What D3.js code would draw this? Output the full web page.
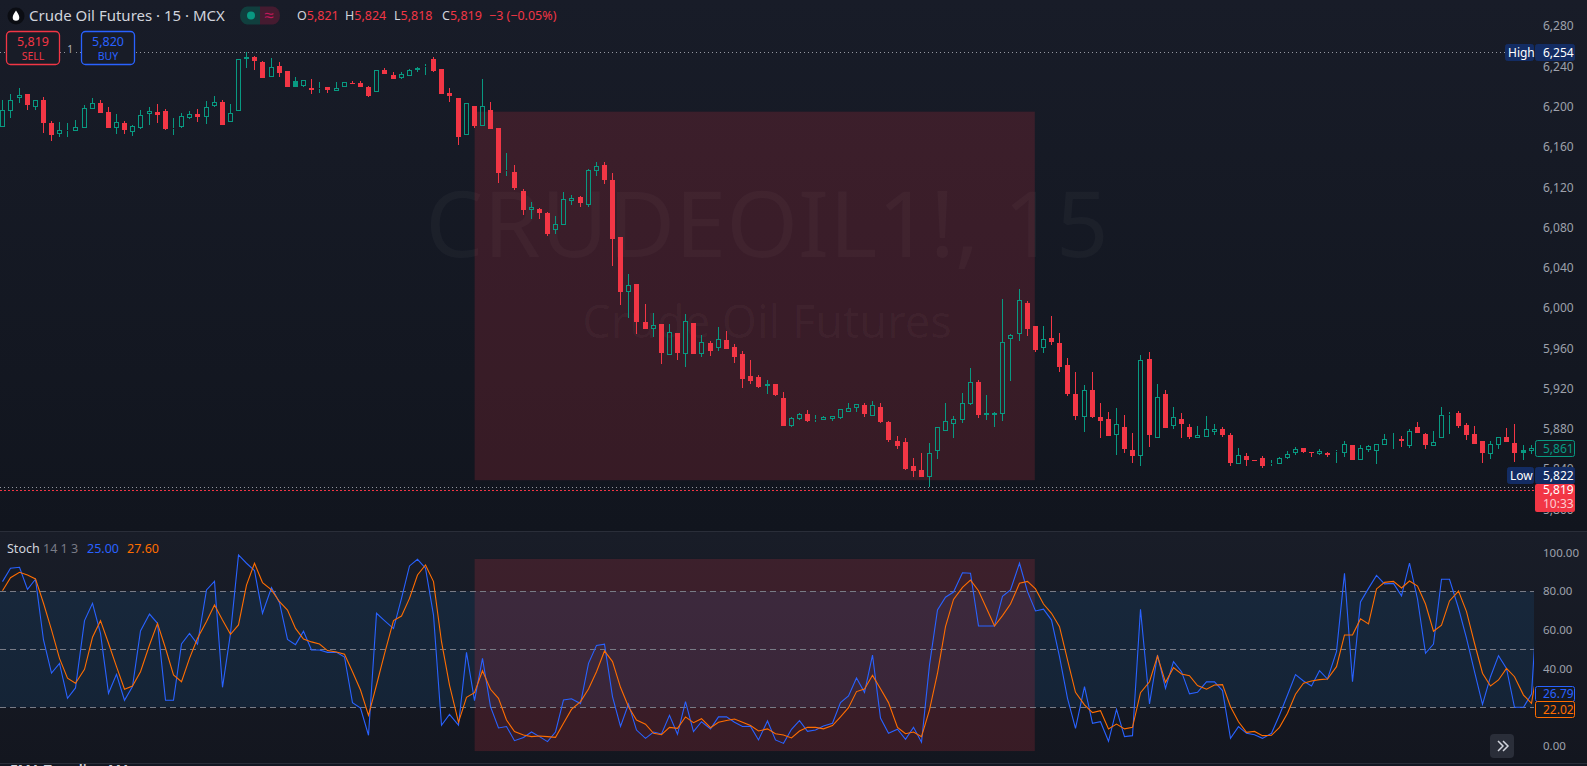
<!DOCTYPE html>
<html>
<head>
<meta charset="utf-8">
<script src="https://cdnjs.cloudflare.com/ajax/libs/d3/7.8.5/d3.min.js"></script>
<style>
  html, body { margin: 0; padding: 0; background: #131722; overflow: hidden; }
  svg { display: block; }
  text { font-family: "Noto Sans", sans-serif; }
</style>
</head>
<body>
<script>
var barOpen = [
  6180,6196,6209,6213,6200,6207,6184,6173,6176,6176,
  6179,6198,6204,6195,6179,6184,6175,6179,6193,6195,
  6196,6178,6180,6189,6193,6190,6201,6205,6185,6196,
  6247,6249,6244,6229,6240,6235,6225,6221,6219,6218,
  6220,6216,6220,6223,6223,6220,6215,6236,6231,6228,
  6230,6236,6239,6247,6237,6214,6209,6172,6201,6181,
  6197,6179,6136,6135,6116,6097,6098,6094,6077,6082,
  6106,6110,6102,6136,6142,6127,6071,6016,6024,5986,
  5979,5984,5953,5975,5954,5985,5954,5965,5960,5968,
  5961,5954,5932,5931,5923,5925,5911,5883,5890,5895,
  5889,5889,5890,5891,5897,5901,5904,5893,5902,5887,
  5868,5867,5843,5839,5832,5858,5878,5885,5889,5905,
  5927,5894,5894,5895,5969,5974,6005,5982,5960,5970,
  5965,5943,5915,5892,5919,5892,5890,5874,5882,5859,
  5853,5949,5871,5915,5883,5890,5882,5871,5872,5877,
  5880,5874,5845,5853,5849,5851,5845,5845,5851,5856,
  5861,5857,5855,5856,5857,5856,5864,5849,5859,5858,
  5864,5871,5870,5863,5882,5875,5863,5871,5894,5896,
  5884,5875,5868,5855,5864,5872,5866,5859,5858
];
var barHigh = [
  6207,6213,6219,6213,6207,6210,6186,6185,6184,6187,
  6202,6209,6207,6200,6193,6186,6182,6197,6200,6203,
  6198,6189,6194,6196,6198,6206,6211,6207,6203,6247,
  6254,6250,6245,6248,6244,6235,6229,6226,6227,6224,
  6220,6224,6224,6225,6225,6221,6236,6238,6234,6234,
  6237,6239,6242,6249,6237,6219,6209,6204,6201,6227,
  6205,6179,6154,6142,6118,6105,6099,6095,6091,6115,
  6112,6111,6138,6145,6145,6134,6071,6034,6024,6004,
  5995,5984,5984,5975,5994,5985,5973,5967,5981,5977,
  5964,5957,5948,5933,5929,5925,5917,5892,5896,5899,
  5894,5893,5893,5900,5906,5905,5906,5908,5906,5888,
  5873,5871,5851,5856,5866,5882,5906,5893,5916,5940,
  5929,5914,5897,6009,5974,6019,6007,5982,5982,5992,
  5975,5950,5936,5924,5936,5906,5897,5901,5894,5876,
  5953,5956,5925,5919,5902,5896,5885,5883,5893,5885,
  5882,5876,5861,5856,5849,5853,5849,5852,5858,5862,
  5861,5857,5860,5857,5859,5868,5864,5864,5864,5865,
  5875,5876,5873,5880,5887,5876,5878,5902,5897,5898,
  5886,5883,5868,5868,5872,5881,5885,5864,5864
];
var barLow = [
  6180,6189,6204,6197,6197,6174,6166,6170,6170,6176,
  6179,6198,6194,6179,6173,6173,6171,6178,6182,6184,
  6177,6172,6179,6188,6185,6183,6200,6182,6185,6196,
  6238,6236,6228,6229,6229,6220,6220,6220,6213,6214,
  6214,6216,6220,6222,6220,6210,6215,6232,6227,6227,
  6230,6234,6231,6234,6213,6205,6162,6172,6179,6181,
  6178,6124,6131,6117,6092,6088,6088,6072,6074,6082,
  6102,6100,6100,6131,6123,6042,6003,5990,5974,5979,
  5971,5944,5953,5948,5941,5954,5951,5952,5957,5959,
  5945,5921,5925,5921,5915,5913,5883,5882,5889,5887,
  5887,5889,5888,5890,5897,5897,5892,5893,5886,5867,
  5860,5839,5832,5832,5822,5850,5878,5871,5886,5904,
  5891,5889,5882,5888,5928,5967,5972,5956,5955,5963,
  5936,5913,5889,5877,5891,5871,5873,5854,5856,5846,
  5843,5862,5871,5881,5880,5871,5870,5871,5872,5874,
  5872,5843,5845,5843,5848,5841,5843,5845,5850,5854,
  5856,5852,5854,5852,5846,5852,5849,5849,5857,5845,
  5864,5860,5862,5861,5876,5860,5863,5871,5875,5881,
  5869,5865,5846,5850,5860,5867,5847,5849,5855
];
var barClose = [
  6197,6207,6212,6202,6207,6184,6172,6177,6177,6180,
  6199,6204,6194,6179,6185,6177,6181,6192,6196,6192,
  6178,6179,6191,6193,6190,6200,6205,6182,6194,6247,
  6249,6245,6228,6239,6233,6220,6220,6226,6217,6219,
  6217,6219,6224,6222,6220,6211,6236,6232,6227,6232,
  6236,6238,6240,6235,6213,6211,6170,6204,6181,6201,
  6178,6134,6137,6119,6097,6100,6094,6074,6083,6108,
  6109,6104,6137,6141,6127,6069,6016,6023,5986,5979,
  5983,5955,5976,5955,5987,5954,5966,5957,5969,5959,
  5951,5930,5928,5922,5925,5914,5883,5891,5895,5888,
  5890,5892,5893,5900,5901,5905,5895,5904,5887,5869,
  5863,5840,5838,5832,5856,5882,5888,5890,5906,5927,
  5894,5896,5896,5966,5973,6008,5979,5958,5969,5966,
  5941,5915,5893,5919,5892,5888,5873,5885,5860,5853,
  5948,5874,5912,5881,5892,5885,5872,5874,5880,5880,
  5874,5846,5854,5849,5848,5843,5846,5851,5855,5860,
  5857,5856,5858,5854,5858,5865,5849,5861,5863,5865,
  5870,5871,5868,5878,5876,5864,5867,5894,5895,5883,
  5874,5865,5856,5865,5872,5867,5856,5856,5861
];
// down bars drawn solid green in the hollow candle style
var filledUpBars = [36, 187];

var stochK = [
  85.0,91.9,92.4,81.0,86.2,54.8,37.7,42.7,24.6,30.0,
  64.8,73.8,58.2,27.2,37.0,23.6,30.7,59.5,68.2,63.4,
  23.6,23.6,52.7,58.2,52.7,80.7,85.1,30.3,58.2,98.8,
  94.5,90.7,68.6,81.9,74.1,55.1,52.4,59.3,49.6,49.6,
  48.4,48.4,46.0,22.4,19.6,5.5,68.6,64.8,60.7,76.3,
  93.1,96.5,91.9,67.7,10.7,16.3,10.7,48.4,23.4,45.3,
  20.3,9.3,10.0,2.7,4.4,7.2,4.8,2.2,7.2,23.8,
  24.4,21.9,42.7,52.0,52.6,25.5,10.1,21.7,8.2,3.9,
  7.2,6.2,15.8,6.0,22.9,7.4,12.5,8.8,15.0,15.1,
  12.2,10.0,10.1,3.1,12.9,3.1,1.3,8.6,13.1,7.5,
  8.2,10.3,11.7,22.4,25.8,35.1,27.7,47.0,14.4,6.5,
  8.6,3.4,9.6,1.9,41.9,70.3,76.9,79.6,89.6,89.3,
  62.0,62.0,62.0,77.4,80.7,94.5,79.8,69.8,70.7,65.1,
  46.2,24.6,9.1,30.7,11.7,12.5,2.4,18.9,4.8,5.3,
  70.7,21.7,47.0,29.8,43.6,38.4,26.9,27.7,33.1,33.1,
  28.6,3.9,10.0,6.5,5.8,3.9,6.5,16.0,26.3,36.9,
  33.6,31.0,38.9,34.6,48.8,89.3,33.2,74.5,81.5,88.2,
  83.8,84.1,77.6,94.5,76.0,47.9,52.7,86.2,86.2,71.2,
  55.7,38.4,21.5,35.8,46.7,40.1,20.0,20.0,26.79,92.0
];
var stochD = [
  80.3,87.0,89.8,88.4,86.4,73.8,60.0,45.3,35.0,32.4,
  39.6,56.2,64.8,53.1,41.0,29.3,31.0,38.4,52.2,63.4,
  50.5,36.7,33.2,45.3,55.7,64.3,72.9,65.1,57.7,62.6,
  83.2,94.5,84.5,80.7,74.6,70.3,60.8,55.3,53.8,52.7,
  49.3,48.6,47.4,38.4,28.9,15.8,31.5,47.6,64.8,67.2,
  76.3,88.4,93.6,85.0,53.9,31.5,12.2,25.1,27.5,38.9,
  29.3,24.6,13.4,7.4,5.6,4.8,5.1,4.8,4.4,11.7,
  18.9,22.9,29.4,38.4,49.1,43.6,30.3,20.3,13.4,11.2,
  6.5,5.8,9.6,9.1,15.0,12.0,14.1,9.4,12.2,13.1,
  13.9,12.2,10.5,7.7,8.8,6.3,5.6,4.1,7.7,9.6,
  9.6,8.8,10.5,15.0,19.8,28.1,29.4,36.5,29.6,22.4,
  9.6,6.3,7.2,4.8,18.6,37.6,61.7,75.8,82.0,85.8,
  80.3,71.2,62.0,67.4,73.4,84.1,85.1,81.2,73.4,68.6,
  61.7,44.5,27.7,21.2,17.2,18.2,8.8,11.3,8.8,9.6,
  27.5,33.2,46.5,32.9,40.5,37.2,36.3,31.2,29.3,31.5,
  31.7,20.3,12.5,7.0,7.5,5.3,5.5,9.6,16.9,26.7,
  32.4,33.6,34.3,34.6,41.0,57.4,57.4,65.7,63.1,81.2,
  84.6,85.1,81.7,85.3,82.7,73.4,59.3,62.4,75.0,80.1,
  69.5,53.1,37.6,31.0,34.1,40.1,35.8,26.3,22.02,46.0
];

var priceTicks = [6280,6240,6200,6160,6120,6080,6040,6000,5960,5920,5880,5840,5800];
var stochTicks = [100,80,60,40,20,0];
var stochLevels = [80,50,20];
var stochBand = [80,20];
var boxBars = [58.1,127];
var boxPrices = [6195,5829];
var boxStoch = [96.7,-2.7];
var highPrice = 6254, lowPrice = 5822, lastPrice = 5819, closeTag = 5861;
var legendKeys = ["O","H","L","C"];
var legendVals = ["5,821","5,824","5,818","5,819"];
var legendX = [297,345,394,442];

var W = 1587, H = 766, scaleEdge = 1534;
var green = "#089981", red = "#f23645", blue = "#2962ff", orange = "#ff6d00";
var axisGrey = "#9da1ab", textLight = "#d1d4dc", tagBlue = "#132c63";

var xScale = d3.scaleLinear().domain([0,188]).range([2.28,1530.72]);
var yPrice = d3.scaleLinear().domain([6280,5800]).range([26.1,509.4]);
var yStoch = d3.scaleLinear().domain([100,0]).range([552.6,745.9]);

function col(i) { return Math.round(xScale(i)); }

var svg = d3.select("body").append("svg").attr("width",W).attr("height",H);
var defs = svg.append("defs");

function addFade(id, top, bottom) {
  var g = defs.append("linearGradient").attr("id",id).attr("x1",0).attr("x2",0).attr("y1",0).attr("y2",1);
  g.append("stop").attr("offset",0).attr("stop-color",top);
  g.append("stop").attr("offset",1).attr("stop-color",bottom);
}
addFade("mainFade","#181c28","#11151e");
addFade("stochFade","#191d28","#13161f");

defs.append("clipPath").attr("id","paneClip").append("rect").attr("width",scaleEdge).attr("height",H);

// panes
svg.append("rect").attr("width",W).attr("height",531).attr("fill","url(#mainFade)");
svg.append("rect").attr("y",532).attr("width",W).attr("height",231).attr("fill","url(#stochFade)");
svg.append("rect").attr("y",764).attr("width",W).attr("height",2).attr("fill","#131722");
svg.append("rect").attr("y",531).attr("width",W).attr("height",1).attr("fill","#2a2e39");
svg.append("rect").attr("y",763).attr("width",W).attr("height",1).attr("fill","#2a2e39");

// watermark
svg.append("text").attr("x",767).attr("y",257).attr("text-anchor","middle")
  .attr("font-size",92).attr("fill","rgba(255,255,255,0.03)").text("CRUDEOIL1!, 15");
svg.append("text").attr("x",767).attr("y",338).attr("text-anchor","middle")
  .attr("font-size",45).attr("fill","rgba(255,255,255,0.035)").text("Crude Oil Futures");

// red boxes
svg.append("rect").attr("x",xScale(boxBars[0])).attr("width",xScale(boxBars[1])-xScale(boxBars[0]))
  .attr("y",yPrice(boxPrices[0])).attr("height",yPrice(boxPrices[1])-yPrice(boxPrices[0]))
  .attr("fill",red).attr("fill-opacity",0.17);

// high / low / last lines
function priceLine(p, color, dash, x2) {
  svg.append("line").attr("x1",0).attr("x2",x2)
    .attr("y1",Math.round(yPrice(p))+0.5).attr("y2",Math.round(yPrice(p))+0.5)
    .attr("stroke",color).attr("stroke-dasharray",dash);
}
priceLine(highPrice,"#9598a1","1 3",1505);
priceLine(lowPrice,"#9598a1","1 3",scaleEdge);
priceLine(lastPrice,red,"2 2",scaleEdge);

// candles
var candles = svg.append("g").attr("clip-path","url(#paneClip)");
barOpen.forEach(function(o,i) {
  var c = barClose[i];
  var up = c >= o || filledUpBars.indexOf(i) >= 0;
  var solid = c < o;
  var color = up ? green : red;
  var top = Math.round(yPrice(Math.max(o,c)));
  var bot = Math.round(yPrice(Math.min(o,c)));
  var hi = Math.round(yPrice(barHigh[i]));
  var lo = Math.round(yPrice(barLow[i]));
  var x = col(i);

  // wick stops at the body so the hollow ones stay empty
  candles.append("path")
    .attr("d","M"+(x+0.5)+","+hi+"V"+top+"M"+(x+0.5)+","+bot+"V"+lo)
    .attr("stroke",color).attr("fill","none");

  if (solid) {
    candles.append("rect").attr("x",x-2).attr("width",5)
      .attr("y",top).attr("height",Math.max(bot-top,1)).attr("fill",color);
  } else {
    candles.append("rect").attr("x",x-1.5).attr("width",4)
      .attr("y",top+0.5).attr("height",Math.max(bot-top-1,0))
      .attr("fill","none").attr("stroke",color);
  }
});

// stoch band, levels
svg.append("rect").attr("width",scaleEdge)
  .attr("y",yStoch(stochBand[0])).attr("height",yStoch(stochBand[1])-yStoch(stochBand[0]))
  .attr("fill","#2196f3").attr("fill-opacity",0.1);
svg.append("rect").attr("x",xScale(boxBars[0])).attr("width",xScale(boxBars[1])-xScale(boxBars[0]))
  .attr("y",yStoch(boxStoch[0])).attr("height",yStoch(boxStoch[1])-yStoch(boxStoch[0]))
  .attr("fill",red).attr("fill-opacity",0.17);
svg.selectAll(".level").data(stochLevels).enter().append("line")
  .attr("class","level").attr("x1",0).attr("x2",scaleEdge)
  .attr("y1",function(d) { return Math.round(yStoch(d))+0.5; })
  .attr("y2",function(d) { return Math.round(yStoch(d))+0.5; })
  .attr("stroke","#787b86").attr("stroke-dasharray","6 4");

var stochLine = d3.line()
  .x(function(d,i) { return col(i)+0.5; })
  .y(function(d) { return yStoch(d); });
var lines = svg.append("g").attr("clip-path","url(#paneClip)");
lines.append("path").attr("d",stochLine(stochK)).attr("fill","none").attr("stroke",blue).attr("stroke-width",1.1);
lines.append("path").attr("d",stochLine(stochD)).attr("fill","none").attr("stroke",orange).attr("stroke-width",1.1);

// axes
function styleAxis(size) {
  return function(g) {
    g.select(".domain").remove();
    g.selectAll("text").attr("fill",axisGrey).attr("font-size",size).style("font-family",'"Noto Sans", sans-serif');
  };
}
svg.append("g").attr("transform","translate("+scaleEdge+",0)")
  .call(d3.axisRight(yPrice).tickValues(priceTicks).tickFormat(d3.format(",")).tickSize(0).tickPadding(9))
  .call(styleAxis(12));
svg.append("g").attr("transform","translate("+scaleEdge+",0)")
  .call(d3.axisRight(yStoch).tickValues(stochTicks).tickFormat(d3.format(".2f")).tickSize(0).tickPadding(9))
  .call(styleAxis(11.5));

// price tags
function tag(x, y, w, h, fill, stroke, label, color, anchorX) {
  svg.append("rect").attr("x",x+0.5).attr("y",y+0.5).attr("width",w-1).attr("height",h-1).attr("rx",2)
    .attr("fill",fill).attr("stroke",stroke || fill);
  svg.append("text").attr("x",anchorX).attr("y",y+h/2+4).attr("font-size",12).attr("fill",color).text(label);
}
tag(1505,44,29,17,tagBlue,null,"High","#fff",1508);
tag(1535,44,40,17,tagBlue,null,d3.format(",")(highPrice),"#fff",1543);
tag(1535,440,40,17,"#141c25",green,d3.format(",")(closeTag),green,1543);
tag(1507,467,27,17,tagBlue,null,"Low","#fff",1510);
tag(1535,467,40,17,tagBlue,null,d3.format(",")(lowPrice),"#fff",1543);
svg.append("rect").attr("x",1535).attr("y",484).attr("width",40).attr("height",28).attr("rx",2).attr("fill",red);
svg.append("text").attr("x",1543).attr("y",494).attr("font-size",12).attr("fill","#fff").text(d3.format(",")(lastPrice));
svg.append("text").attr("x",1543).attr("y",508).attr("font-size",12).attr("fill","#fff").attr("fill-opacity",0.75).text("10:33");
tag(1535,686,40,16,"#151922",blue,stochK[188].toFixed(2),blue,1543);
tag(1535,701,40,17,"#151922",orange,stochD[188].toFixed(2),orange,1543);

// header
svg.append("circle").attr("cx",16).attr("cy",16).attr("r",8.5).attr("fill","#0b0d13");
svg.append("path").attr("d","M16,10.5C14.5,13 12.7,15 12.7,17.5A3.3,3.3 0 0 0 19.3,17.5C19.3,15 17.5,13 16,10.5Z").attr("fill","#fff");
svg.append("text").attr("x",29).attr("y",21).attr("font-size",15).attr("fill",textLight).text("Crude Oil Futures · 15 · MCX");

svg.append("path").attr("d","M260,6.5H247A7,9 0 0 0 240,15.5A7,9 0 0 0 247,24.5H260Z").attr("fill","#103f3e");
svg.append("path").attr("d","M260,6.5H273A7,9 0 0 1 280,15.5A7,9 0 0 1 273,24.5H260Z").attr("fill","#451b30");
svg.append("circle").attr("cx",251).attr("cy",15.5).attr("r",4).attr("fill",green);
svg.append("text").attr("x",269).attr("y",21).attr("text-anchor","middle").attr("font-size",17).attr("fill","#c2185b").text("≈");

legendKeys.forEach(function(k,i) {
  var t = svg.append("text").attr("x",legendX[i]).attr("y",20).attr("font-size",12.5);
  t.append("tspan").attr("fill",textLight).text(k);
  t.append("tspan").attr("fill",red).text(legendVals[i]);
});
svg.append("text").attr("x",489).attr("y",20).attr("font-size",12.5).attr("fill",red).text("−3 (−0.05%)");

// sell / buy
function orderBox(x, color, price, side) {
  svg.append("rect").attr("x",x).attr("y",31.5).attr("width",53).attr("height",33).attr("rx",4)
    .attr("fill","#181c27").attr("stroke",color).attr("stroke-width",1.3);
  svg.append("text").attr("x",x+26.5).attr("y",46).attr("text-anchor","middle").attr("font-size",12.5).attr("fill",color).text(price);
  svg.append("text").attr("x",x+26.5).attr("y",60).attr("text-anchor","middle").attr("font-size",10.5).attr("fill",color).text(side);
}
orderBox(6.5,red,"5,819","SELL");
orderBox(81.5,blue,"5,820","BUY");
svg.append("rect").attr("x",66).attr("y",43).attr("width",8).attr("height",13).attr("fill","#181c27");
svg.append("text").attr("x",70).attr("y",53).attr("text-anchor","middle").attr("font-size",10).attr("fill","#b2b5be").text("1");

// stoch legend
var stochLegend = svg.append("text").attr("x",7).attr("y",553).attr("font-size",12.5);
stochLegend.append("tspan").attr("fill",textLight).text("Stoch");
stochLegend.append("tspan").attr("x",43).attr("fill","#787b86").text("14 1 3");
stochLegend.append("tspan").attr("x",87).attr("fill",blue).text("25.00");
stochLegend.append("tspan").attr("x",127).attr("fill",orange).text("27.60");

// scroll button
svg.append("rect").attr("x",1490).attr("y",734).attr("width",24).attr("height",24).attr("rx",4).attr("fill","#2a2e39");
svg.append("path").attr("d","M1498,741l5,5l-5,5M1503,741l5,5l-5,5").attr("fill","none").attr("stroke",textLight).attr("stroke-width",1.5);

// next pane title, cut by the window
svg.append("text").attr("x",10).attr("y",774.5).attr("font-size",14).attr("font-weight",600).attr("fill",textLight).text("EMA Trending MA");
</script>
</body>
</html>
